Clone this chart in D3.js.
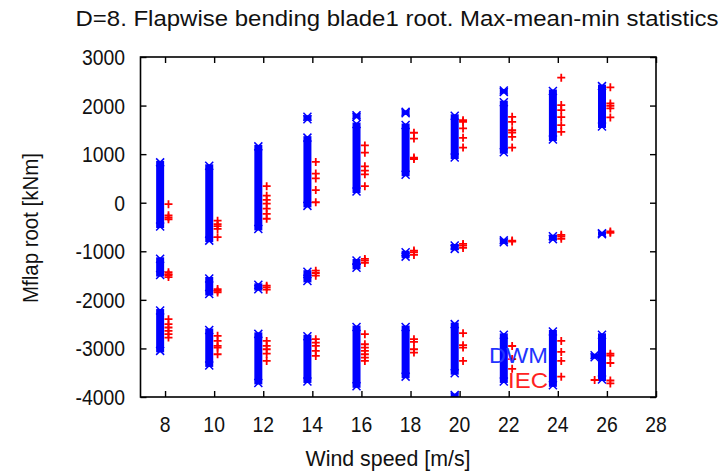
<!DOCTYPE html>
<html>
<head>
<meta charset="utf-8">
<script src="https://cdn.jsdelivr.net/npm/d3@7"></script>
<style>
  html, body { margin: 0; padding: 0; background: #fff; }
  svg { display: block; font-family: "Liberation Sans", Arial, sans-serif; }
</style>
</head>
<body>
<svg id="chart" width="722" height="472"></svg>
<script>
// Wind speed bins (m/s)
const windSpeed = [8, 10, 12, 14, 16, 18, 20, 22, 24, 26];

// DWM: ranges [lo, hi] of the dense point columns, per wind speed (kNm)
const dwmMax = [
  [[-490, 830]],
  [[-780, 760]],
  [[-540, 1160]],
  [[-65, 1340], [1720, 1770]],
  [[230, 1620], [1770, 1800]],
  [[576, 1600], [1840, 1870]],
  [[930, 1790]],
  [[1040, 2070], [2280, 2310]],
  [[1300, 2300]],
  [[1570, 2400]]
];
const dwmMean = [
  [[-1490, -1155]],
  [[-1880, -1560]],
  [[-1780, -1690]],
  [[-1610, -1420]],
  [[-1340, -1190]],
  [[-1110, -1020]],
  [[-950, -880]],
  [[-815, -775]],
  [[-750, -690]],
  [[-650, -630]]
];
const dwmMin = [
  [[-3050, -2220]],
  [[-3350, -2620]],
  [[-3710, -2700]],
  [[-3680, -2750]],
  [[-3780, -2560]],
  [[-3580, -2560]],
  [[-3510, -2500], [-3990, -3960]],
  [[-3680, -2720]],
  [[-3760, -2650]],
  [[-3640, -2720]]
];
// DWM points slightly off the bin centre
const dwmExtraSpeed = [25.5];
const dwmExtraRange = [[-3180, -3140]];

// IEC: individual values per wind speed (kNm)
const iecMax = [
  [-30, -260, -300, -340],
  [-370, -440, -480, -540, -710],
  [340, 145, 60, -20, -120, -230, -330],
  [840, 600, 500, 260, 10],
  [1180, 1030, 750, 660, 585, 340],
  [1440, 1320, 930, 900],
  [1700, 1666, 1529, 1335, 1136],
  [1769, 1666, 1494, 1446, 1356, 1136],
  [2574, 2010, 1907, 1762, 1597, 1459],
  [2376, 2045, 1996, 1942, 1756]
];
const iecMean = [
  [-1430, -1470, -1490, -1530],
  [-1777, -1812, -1846],
  [-1709, -1743, -1791],
  [-1399, -1447, -1502],
  [-1158, -1192, -1240],
  [-985, -1020, -1075],
  [-848, -882, -930],
  [-779, -800],
  [-662, -696, -744],
  [-593, -620]
];
const iecMin = [
  [-2397, -2500, -2569, -2638, -2707, -2776],
  [-2741, -2845, -2948, -2983, -3120],
  [-2845, -2948, -3017, -3108, -3258],
  [-2810, -2879, -2948, -3051, -3155],
  [-2707, -2914, -2983, -3051, -3120, -3189, -3258],
  [-2810, -2866, -3017, -3086],
  [-2686, -2934, -2983, -3258],
  [-2950, -3220, -3420],
  [-2845, -3072, -3258, -3581],
  [-3110, -3150, -3300, -3660, -3720]
];
const iecExtraSpeed = [25.5];
const iecExtraValue = [-3650];

const xTicks = [8, 10, 12, 14, 16, 18, 20, 22, 24, 26, 28];
const yTicks = [3000, 2000, 1000, 0, -1000, -2000, -3000, -4000];

const titleText = "D=8. Flapwise bending blade1 root. Max-mean-min statistics";
const xLabel = "Wind speed [m/s]";
const yLabel = "Mflap root [kNm]";
const seriesNames = ["DWM", "IEC"];

// ---- layout ----
const BLUE = "#0000ff", RED = "#ff0000";
const plot = { left: 140.5, right: 656, top: 57, bottom: 397 };
const svg = d3.select("#chart");
svg.append("rect").attr("width", 722).attr("height", 472).attr("fill", "#fff");

const x = d3.scaleLinear().domain([7, 28]).range([plot.left, plot.right]);
const y = d3.scaleLinear().domain([-4000, 3000]).range([plot.bottom, plot.top]);

const dwmShift = -0.2, iecShift = 0.14;

svg.append("clipPath").attr("id", "clip")
  .append("rect")
  .attr("x", plot.left).attr("y", plot.top)
  .attr("width", plot.right - plot.left).attr("height", plot.bottom - plot.top);

const marks = svg.append("g").attr("clip-path", "url(#clip)");

// squeeze text horizontally by a factor
function squeeze(sel, k) {
  sel.each(function () {
    const w = this.getComputedTextLength();
    d3.select(this).attr("textLength", w * k).attr("lengthAdjust", "spacingAndGlyphs");
  });
}

// DWM columns: a solid band whose ends keep the notched x-marker outline
function dwmColumn(ws, lo, hi) {
  const cx = x(ws);
  marks.append("rect")
    .attr("x", cx - 4).attr("width", 8)
    .attr("y", y(hi) - 1.5).attr("height", Math.max(0, y(lo) - y(hi) + 3))
    .attr("fill", BLUE);
  [hi, lo].forEach(v => {
    marks.append("path")
      .attr("transform", `translate(${cx},${y(v)})`)
      .attr("d", "M-4,-4L4,4M-4,4L4,-4")
      .attr("stroke", BLUE).attr("stroke-width", 1.5).attr("fill", "none");
  });
}
[dwmMax, dwmMean, dwmMin].forEach(stat => {
  stat.forEach((segs, i) => segs.forEach(([lo, hi]) => dwmColumn(windSpeed[i] + dwmShift, lo, hi)));
});
dwmExtraSpeed.forEach((ws, i) => dwmColumn(ws, dwmExtraRange[i][0], dwmExtraRange[i][1]));

// IEC points as plus markers
function iecPoint(ws, v) {
  marks.append("path")
    .attr("transform", `translate(${x(ws)},${y(v)})`)
    .attr("d", "M-4,0H4M0,-4V4")
    .attr("stroke", RED).attr("stroke-width", 1.8).attr("fill", "none");
}
[iecMax, iecMean, iecMin].forEach(stat => {
  stat.forEach((vals, i) => vals.forEach(v => iecPoint(windSpeed[i] + iecShift, v)));
});
iecExtraSpeed.forEach((ws, i) => iecPoint(ws, iecExtraValue[i]));

// ---- axes (ticks inward, mirrored) ----
const tickLen = 6;
const axStyle = g => {
  g.select(".domain").remove();
  g.selectAll(".tick line").attr("stroke", "#000").attr("stroke-width", 1.4);
};
svg.append("g").attr("transform", `translate(0,${plot.bottom})`)
  .call(d3.axisBottom(x).tickValues(xTicks).tickSize(-tickLen).tickFormat(""))
  .call(axStyle);
svg.append("g").attr("transform", `translate(0,${plot.top})`)
  .call(d3.axisTop(x).tickValues(xTicks).tickSize(-tickLen).tickFormat(""))
  .call(axStyle);
svg.append("g").attr("transform", `translate(${plot.left},0)`)
  .call(d3.axisLeft(y).tickValues(yTicks).tickSize(-tickLen).tickFormat(""))
  .call(axStyle);
svg.append("g").attr("transform", `translate(${plot.right},0)`)
  .call(d3.axisRight(y).tickValues(yTicks).tickSize(-tickLen).tickFormat(""))
  .call(axStyle);

svg.append("rect")
  .attr("x", plot.left).attr("y", plot.top)
  .attr("width", plot.right - plot.left).attr("height", plot.bottom - plot.top)
  .attr("fill", "none").attr("stroke", "#000").attr("stroke-width", 1.6);

// tick labels
const FS = 22;
svg.append("g").selectAll("text").data(xTicks).join("text")
  .attr("x", d => x(d)).attr("y", 432)
  .attr("text-anchor", "middle")
  .attr("font-size", FS).attr("fill", "#111")
  .text(d => d)
  .call(squeeze, 0.88);

svg.append("g").selectAll("text").data(yTicks).join("text")
  .attr("x", 125).attr("y", d => y(d) + 8)
  .attr("text-anchor", "end")
  .attr("font-size", FS).attr("fill", "#111")
  .text(d => d)
  .call(squeeze, 0.88);

// titles
svg.append("text")
  .attr("x", 397).attr("y", 26)
  .attr("text-anchor", "middle").attr("font-size", FS).attr("fill", "#111")
  .text(titleText)
  .attr("textLength", 643).attr("lengthAdjust", "spacingAndGlyphs");

svg.append("text")
  .attr("x", 388).attr("y", 466)
  .attr("text-anchor", "middle").attr("font-size", FS).attr("fill", "#111")
  .text(xLabel)
  .attr("textLength", 165).attr("lengthAdjust", "spacingAndGlyphs");

svg.append("text")
  .attr("transform", "translate(38,228) rotate(-90)")
  .attr("text-anchor", "middle").attr("font-size", FS).attr("fill", "#111")
  .text(yLabel)
  .attr("textLength", 150).attr("lengthAdjust", "spacingAndGlyphs");

// legend
svg.append("text")
  .attr("x", 548).attr("y", 363)
  .attr("text-anchor", "end").attr("font-size", FS).attr("fill", "#2233ff")
  .text(seriesNames[0])
  .attr("textLength", 59).attr("lengthAdjust", "spacingAndGlyphs");
svg.append("text")
  .attr("x", 548).attr("y", 388)
  .attr("text-anchor", "end").attr("font-size", FS).attr("fill", "#ff2222")
  .text(seriesNames[1])
  .attr("textLength", 40).attr("lengthAdjust", "spacingAndGlyphs");
</script>
</body>
</html>
